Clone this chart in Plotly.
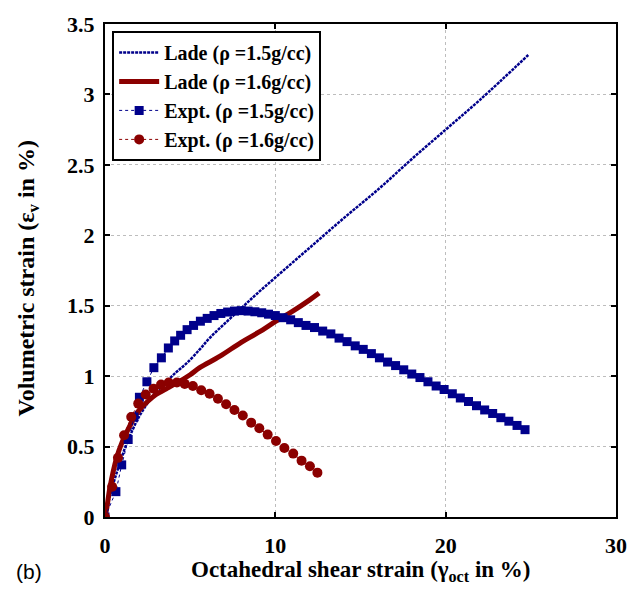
import plotly.graph_objects as go

# Lade model, rho = 1.5 g/cc
lade15_x = [0, 0.15, 0.4, 0.7, 0.92, 1.2, 1.55, 1.9, 2.24, 2.8, 3.6, 4.2, 4.78, 5.56, 6.14, 7.0, 8.07, 8.87, 10, 12, 14, 16.08, 18, 20, 22, 24.85]
lade15_y = [0, 0.08, 0.20, 0.32, 0.40, 0.50, 0.60, 0.69, 0.76, 0.86, 0.96, 1.03, 1.09, 1.19, 1.27, 1.37, 1.49, 1.58, 1.70, 1.91, 2.12, 2.33, 2.54, 2.75, 2.96, 3.28]

# Lade model, rho = 1.6 g/cc
lade16_x = [0, 0.1, 0.29, 0.68, 1.0, 1.27, 1.6, 1.95, 2.5, 3.0, 3.6, 4.19, 5.0, 5.56, 6.73, 8.0, 9.0, 10.04, 11.0, 12.0, 12.57]
lade16_y = [0, 0.06, 0.21, 0.42, 0.53, 0.60, 0.68, 0.75, 0.82, 0.87, 0.91, 0.95, 1.01, 1.06, 1.14, 1.24, 1.31, 1.39, 1.46, 1.54, 1.59]

# Experiment, rho = 1.5 g/cc
exp15_x = [0, 0.64, 0.98, 1.36, 1.70, 2.02, 2.46, 2.87, 3.31, 3.72, 4.09, 4.44, 4.82, 5.2, 5.6, 6.0, 6.4, 6.8, 7.2, 7.6,
           8.0, 8.4, 8.8, 9.2, 9.6, 10.0, 10.45, 10.9, 11.35, 11.8, 12.3, 12.78,
           13.26, 13.74, 14.21, 14.69, 15.16, 15.64, 16.11, 16.59, 17.06, 17.54, 18.01, 18.49, 18.96, 19.44, 19.91,
           20.39, 20.86, 21.34, 21.81, 22.29, 22.76, 23.24, 23.71, 24.19, 24.66]
exp15_y = [0, 0.18, 0.37, 0.55, 0.71, 0.85, 0.96, 1.06, 1.13, 1.20, 1.25, 1.29, 1.33, 1.36, 1.39, 1.41, 1.43, 1.445, 1.455, 1.462,
           1.465, 1.462, 1.457, 1.45, 1.44, 1.43, 1.415, 1.40, 1.38, 1.36, 1.345, 1.32,
           1.30, 1.27, 1.245, 1.215, 1.19, 1.16, 1.13, 1.10, 1.075, 1.045, 1.015, 0.99, 0.96, 0.93, 0.905,
           0.875, 0.845, 0.82, 0.79, 0.76, 0.735, 0.705, 0.68, 0.65, 0.62]

# Experiment, rho = 1.6 g/cc
exp16_x = [0, 0.42, 0.76, 1.12, 1.54, 1.95, 2.39, 2.85, 3.29, 3.74, 4.22, 4.68, 5.16, 5.65, 6.14, 6.63, 7.11, 7.6,
           8.09, 8.58, 9.06, 9.55, 10.04, 10.53, 11.05, 11.54, 12.03, 12.47]
exp16_y = [0, 0.215, 0.42, 0.58, 0.71, 0.805, 0.87, 0.91, 0.94, 0.955, 0.955, 0.945, 0.93, 0.90, 0.875, 0.84, 0.80, 0.76,
           0.72, 0.67, 0.63, 0.585, 0.54, 0.49, 0.45, 0.40, 0.36, 0.315]

x_ticks = [0, 10, 20, 30]
y_ticks = [0, 0.5, 1, 1.5, 2, 2.5, 3, 3.5]
y_tick_text = ["0", "0.5", "1", "1.5", "2", "2.5", "3", "3.5"]

NAVY = "#00008B"
DRED = "#8B0000"
SERIF = "Liberation Serif, Times New Roman, serif"

fig = go.Figure()
fig.add_trace(go.Scatter(x=lade15_x, y=lade15_y, mode="lines", name="Lade (ρ =1.5g/cc)",
                         line=dict(color=NAVY, width=2.5, dash="3px,1px", shape="spline")))
fig.add_trace(go.Scatter(x=lade16_x, y=lade16_y, mode="lines", name="Lade (ρ =1.6g/cc)",
                         line=dict(color=DRED, width=5, shape="spline")))
fig.add_trace(go.Scatter(x=exp15_x, y=exp15_y, mode="lines+markers", name="Expt. (ρ =1.5g/cc)",
                         line=dict(color=NAVY, width=1, dash="dot"),
                         marker=dict(symbol="square", size=9, color=NAVY)))
fig.add_trace(go.Scatter(x=exp16_x, y=exp16_y, mode="lines+markers", name="Expt. (ρ =1.6g/cc)",
                         line=dict(color=DRED, width=1, dash="dot"),
                         marker=dict(symbol="circle", size=10, color=DRED)))

axis_common = dict(showline=True, linecolor="black", linewidth=2, mirror="ticks",
                   ticks="inside", ticklen=5, tickwidth=2, tickcolor="black",
                   showgrid=True, gridcolor="#bdbdbd", griddash="dot", gridwidth=1,
                   zeroline=False,
                   tickfont=dict(family=SERIF, size=22, color="black", weight="bold"))

fig.update_xaxes(range=[0, 30], tickvals=x_ticks, ticktext=[f"<b>{t}</b>" for t in x_ticks],
                 ticklabelstandoff=8, **axis_common)
fig.update_yaxes(range=[0, 3.5], tickvals=y_ticks, ticktext=[f"<b>{t}</b>" for t in y_tick_text],
                 ticklabelstandoff=4, **axis_common)

fig.update_layout(
    width=639, height=590,
    margin=dict(l=105, r=22, t=13, b=73),
    paper_bgcolor="white", plot_bgcolor="white",
    showlegend=True,
    legend=dict(x=0.014, y=0.986, xanchor="left", yanchor="top",
                bgcolor="white", bordercolor="black", borderwidth=2,
                font=dict(family=SERIF, size=20, color="black", weight="bold"),
                tracegroupgap=0, itemwidth=40),
    annotations=[
        dict(text="<b>Octahedral shear strain (γ<sub>oct</sub> in %)</b>", xref="paper", yref="paper",
             x=0.5, y=-(572 - 517) / 504, xanchor="center", yanchor="middle", showarrow=False,
             font=dict(family=SERIF, size=23, color="black")),
        dict(text="<b>Volumetric strain (ε<sub>v</sub> in %)</b>", xref="paper", yref="paper",
             x=-(105 - 28) / 512, y=(517 - 273) / 504, xanchor="center", yanchor="middle", showarrow=False,
             textangle=-90, font=dict(family=SERIF, size=24, color="black")),
        dict(text="(b)", xref="paper", yref="paper",
             x=-(105 - 14) / 512, y=-(573 - 517) / 504, xanchor="left", yanchor="middle", showarrow=False,
             font=dict(family="Liberation Sans, Arial, sans-serif", size=21, color="black")),
    ],
)

fig.write_html("out.html")
